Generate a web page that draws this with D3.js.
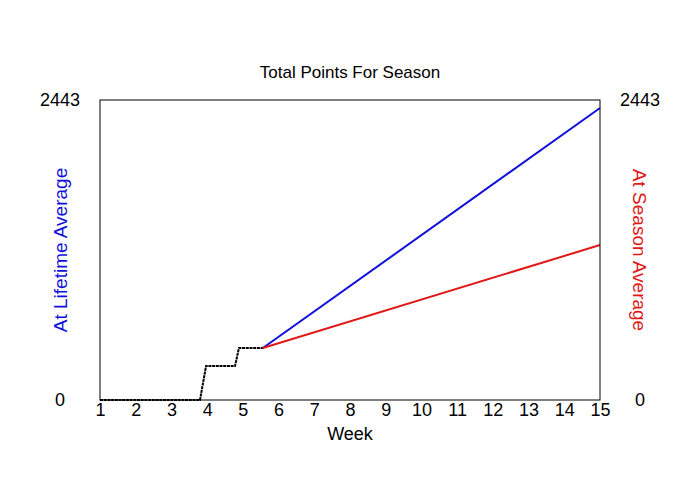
<!DOCTYPE html>
<html><head><meta charset="utf-8">
<script src="https://cdn.jsdelivr.net/npm/d3@7"></script>
<style>body{margin:0;background:#fff}text{font-family:Arial,"Liberation Sans",sans-serif}</style>
</head><body>
<svg id="c" width="700" height="500"></svg>
<script>
const weeks = d3.range(1, 16)
const actualWeek = [1, 3.8, 3.97, 4.78, 4.89, 5.56]
const actualPts = [0, 0, 277, 277, 423, 423]
const lifetimeWeek = [5.56, 15]
const lifetimePts = [423, 2378]
const seasonWeek = [5.56, 15]
const seasonPts = [423, 1262]
const yMax = 2443

const svg = d3.select('#c')
const x = d3.scaleLinear().domain([1, 15]).range([100, 600])
const y = d3.scaleLinear().domain([0, yMax]).range([400, 100])

svg.append('text').attr('x', 350).attr('y', 78).attr('text-anchor', 'middle')
  .attr('font-size', 17).text('Total Points For Season')

const line = d3.line().x(d => x(d[0])).y(d => y(d[1]))
const draw = (wk, pts, color, dash) => svg.append('path')
  .attr('d', line(wk.map((w, i) => [w, pts[i]])))
  .attr('fill', 'none').attr('stroke', color).attr('stroke-width', 2)
  .attr('stroke-dasharray', dash)

draw(lifetimeWeek, lifetimePts, '#1010dd', null)
draw(seasonWeek, seasonPts, '#e01818', null)
draw(actualWeek, actualPts, '#000', '3,0.7')

svg.append('rect').attr('x', 100).attr('y', 100).attr('width', 500).attr('height', 300)
  .attr('fill', 'none').attr('stroke', '#000')

svg.append('g').attr('transform', 'translate(0,400)')
  .call(d3.axisBottom(x).tickValues(weeks).tickSize(0).tickPadding(3).tickFormat(d3.format('d')))
  .call(g => g.select('.domain').remove())
  .selectAll('text').attr('font-size', 18).attr('fill', '#000')

svg.append('text').attr('x', 350).attr('y', 440).attr('text-anchor', 'middle').attr('font-size', 18).text('Week')

;[[y(0) + 6, '0'], [y(yMax) + 6, String(yMax)]].forEach(([yy, t]) => {
  svg.append('text').attr('x', 60).attr('y', yy).attr('text-anchor', 'middle').attr('font-size', 18).text(t)
  svg.append('text').attr('x', 640).attr('y', yy).attr('text-anchor', 'middle').attr('font-size', 18).text(t)
})

svg.append('text').attr('transform', 'translate(67,250) rotate(-90)').attr('text-anchor', 'middle')
  .attr('font-size', 19).attr('fill', '#1010dd').text('At Lifetime Average')
svg.append('text').attr('transform', 'translate(633,250) rotate(90)').attr('text-anchor', 'middle')
  .attr('font-size', 19).attr('fill', '#e01818').text('At Season Average')
</script>
</body></html>
